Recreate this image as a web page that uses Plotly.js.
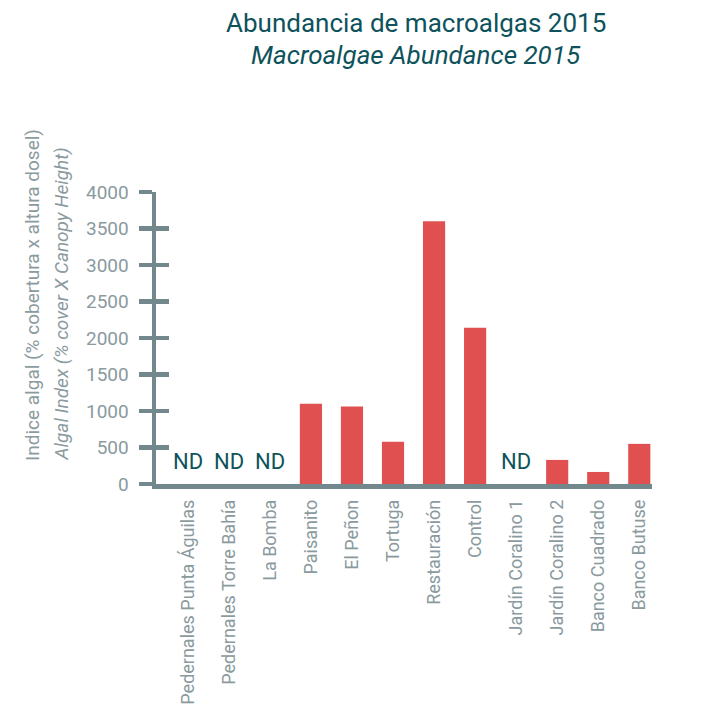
<!DOCTYPE html>
<html>
<head>
<meta charset="utf-8">
<script src="https://cdn.plot.ly/plotly-3.0.1.min.js"></script>
<style>html,body{margin:0;padding:0;background:#fff;}#chart{width:719px;height:719px;}</style>
</head>
<body>
<div id="chart"></div>
<script>
const categories = ["Pedernales Punta Águilas","Pedernales Torre Bahía","La Bomba","Paisanito","El Peñon","Tortuga","Restauración","Control","Jardín Coralino 1","Jardín Coralino 2","Banco Cuadrado","Banco Butuse"];
const values = [null, null, null, 1100, 1060, 580, 3600, 2140, null, 330, 165, 550];
const ndFlags = [true, true, true, false, false, false, false, false, true, false, false, false];
const yTickValues = [0, 500, 1000, 1500, 2000, 2500, 3000, 3500, 4000];
const titleLine1 = "Abundancia de macroalgas 2015";
const titleLine2 = "Macroalgae Abundance 2015";
const yTitleLine1 = "Indice algal (% cobertura x altura dosel)";
const yTitleLine2 = "Algal Index (% cover X Canopy Height)";

const AX = "#73888d";
const TXT = "#8a9a9e";
const DARK = "#0e525c";
const FONT = "Roboto, 'Liberation Sans', sans-serif";

const traces = [
  {type: "bar", x: categories, y: values, marker: {color: "#e05050"}, hoverinfo: "x+y", showlegend: false},
  {type: "scatter", mode: "markers", x: categories, y: values.map(() => null), yaxis: "y2", showlegend: false, hoverinfo: "skip"}
];

const annotations = [];
categories.forEach((c, i) => {
  if (ndFlags[i]) annotations.push({x: c, y: 0, xref: "x", yref: "y", text: "ND", showarrow: false, yanchor: "bottom", yshift: 8, font: {family: FONT, size: 22, color: DARK}});
});
annotations.push({xref: "paper", yref: "paper", x: 0.524, y: 1.5788, xanchor: "center", yanchor: "middle", text: titleLine1, showarrow: false, font: {family: FONT, size: 26, color: DARK}});
annotations.push({xref: "paper", yref: "paper", x: 0.524, y: 1.469, xanchor: "center", yanchor: "middle", text: "<i>" + titleLine2 + "</i>", showarrow: false, font: {family: FONT, size: 26, color: DARK}});
annotations.push({xref: "paper", yref: "paper", x: -0.248, y: 0.072, xanchor: "center", yanchor: "bottom", textangle: -90, text: yTitleLine1, showarrow: false, font: {family: FONT, size: 19, color: TXT}});
annotations.push({xref: "paper", yref: "paper", x: -0.1915, y: 0.072, xanchor: "center", yanchor: "bottom", textangle: -90, text: "<i>" + yTitleLine2 + "</i>", showarrow: false, font: {family: FONT, size: 19, color: TXT}});

const layout = {
  width: 719, height: 719,
  margin: {l: 156, r: 67, t: 192, b: 235, pad: 0},
  paper_bgcolor: "#fff", plot_bgcolor: "#fff",
  bargap: 0.46,
  font: {family: FONT, color: TXT},
  xaxis: {
    type: "category", range: [-0.775, 11.31],
    showline: true, linecolor: AX, linewidth: 4.5,
    ticks: "", tickangle: -90, ticklabelstandoff: 4,
    tickfont: {family: FONT, size: 18, color: TXT},
    showgrid: false, zeroline: false, fixedrange: true
  },
  yaxis: {
    range: [0, 4000], tickvals: yTickValues,
    showline: true, linecolor: AX, linewidth: 4.5,
    ticks: "outside", ticklen: 13, tickwidth: 4.5, tickcolor: AX,
    ticklabelstandoff: 6,
    tickfont: {family: FONT, size: 19, color: TXT},
    showgrid: false, zeroline: false, fixedrange: true
  },
  yaxis2: {
    overlaying: "y", side: "left", range: [0, 4000], tickvals: yTickValues,
    showline: false, ticks: "inside", ticklen: 13, tickwidth: 4.5, tickcolor: AX,
    showticklabels: false, showgrid: false, zeroline: false, fixedrange: true
  },
  annotations: annotations,
  showlegend: false
};

Plotly.newPlot("chart", traces, layout, {displayModeBar: false, staticPlot: true});
</script>
</body>
</html>
